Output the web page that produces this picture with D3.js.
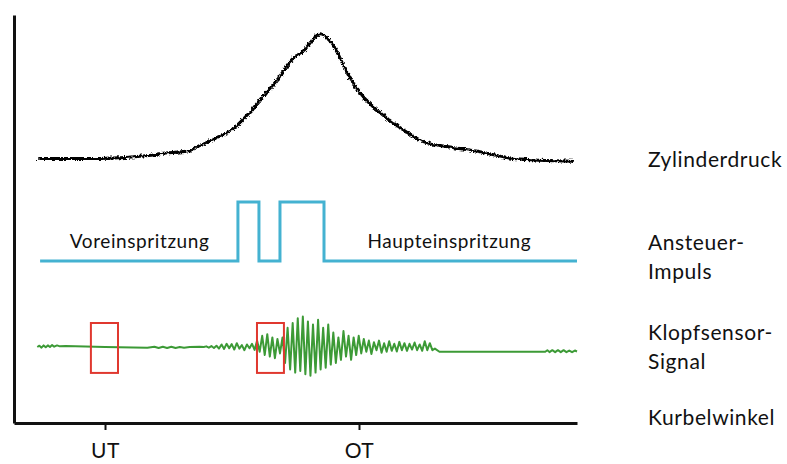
<!DOCTYPE html>
<html>
<head>
<meta charset="utf-8">
<script src="https://cdn.jsdelivr.net/npm/d3@7"></script>
<style>
  body { margin: 0; background: #fff; }
  svg { font-family: Lato, "Noto Sans", sans-serif; }
</style>
</head>
<body>
<div id="chart"></div>
<script>
// crank angle in degrees, UT = -180, OT = 0
const angleDomain = [-244.5, 154.5];
const tickAngles = [-180, 0];
const tickLabels = ["UT", "OT"];

// cylinder pressure (relative units)
const pressureAngle = [-228, -184, -150, -141, -122, -113, -102, -89, -79, -70, -58, -49, -40, -28, -18, -8.5, 0.7, 15, 27, 45, 64.5, 84, 109, 151];
const pressureValue = [9, 9, 11, 12.5, 14.5, 18.5, 24, 31, 41, 52, 66, 79, 86, 98, 88, 69, 55, 41, 32, 21, 17, 14, 9, 7];

// injection control pulse (0 = off, 1 = on)
const pulseAngle = [-226, -85.8, -70.9, -56, -24.8, 154.5];
const pulseValue = [0, 1, 0, 1, 0, 0];
const pulseLabels = [
  { text: "Voreinspritzung", angle: -205 },
  { text: "Haupteinspritzung", angle: 6 }
];

// knock sensor signal
const knockHead = [[-228, 0], [-226.5, 0.04], [-225, -0.02], [-223.5, 0.05], [-222, -0.01], [-220.5, 0.05], [-219, 0], [-217.5, 0.06], [-216, 0.01], [-214, 0.05], [-212, 0.02], [-208, 0.03], [-180, 0], [-150, -0.02], [-145, 0.01], [-142, -0.03], [-139, 0.01], [-136, -0.03], [-133, 0.01], [-130, -0.03], [-127, 0], [-124, -0.02], [-120, 0], [-113, 0.01]];
const knockBurstStart = -110;
const knockBurstStep = 1.8;
const knockBurst = [
  0, 0.02, -0.02, 0.03, -0.03, 0.04,
  -0.05, 0.08, -0.06, 0.1, -0.04, 0.09, -0.08, 0.12, -0.05, 0.06, -0.1, 0.08, -0.04, 0.1, -0.09,
  0.2, -0.15, 0.35, -0.25, 0.4, -0.3, 0.3, -0.35, 0.25, -0.2, 0.3,
  -0.5, 0.6, -0.7, 0.75, -0.8, 0.9, -0.75, 0.95, -0.85, 0.8, -0.9, 0.7, -0.8, 0.85, -0.7, 0.6, -0.65, 0.7,
  -0.55, 0.45, -0.5, 0.3, -0.4, 0.5, -0.3, 0.35, -0.4, 0.3, -0.25, 0.35,
  -0.2, 0.25, -0.15, 0.2, -0.22, 0.15, -0.1, 0.2, -0.18, 0.12, -0.15, 0.18, -0.12, 0.1, -0.14, 0.16,
  -0.1, 0.12, -0.12, 0.1, -0.08, 0.14, -0.1, 0.08, -0.12, 0.18, -0.1, 0.12, -0.1, -0.05
];
const knockTail = [[57, -0.15], [132, -0.15], [133.5, -0.1], [135, -0.16], [137, -0.1], [139, -0.16], [141, -0.1], [143, -0.16], [145, -0.1], [147, -0.16], [149, -0.11], [151, -0.16], [153, -0.11], [154.5, -0.14]];

// measuring windows on the knock signal
const knockWindows = [[-190, -170.8], [-72.3, -53.2]];
const windowRange = [-0.81, 0.75];

const seriesLabels = [
  { lines: ["Zylinderdruck"], y: 167 },
  { lines: ["Ansteuer-", "Impuls"], y: 250 },
  { lines: ["Klopfsensor-", "Signal"], y: 340 },
  { lines: ["Kurbelwinkel"], y: 425 }
];

const width = 787, height = 464;
const svg = d3.select("#chart").append("svg")
  .attr("width", width)
  .attr("height", height);

const x = d3.scaleLinear().domain(angleDomain).range([14, 577]);
const yPressure = d3.scaleLinear().domain([0, 100]).range([170, 30]);
const yPulse = d3.scaleLinear().domain([0, 1]).range([261, 202]);
const yKnock = d3.scaleLinear().domain([-1, 1]).range([379, 315]);
const yFrame = d3.scaleLinear().domain([0, 1]).range([423, 15]);

// jitter of the pressure trace
const defs = svg.append("defs");
const f = defs.append("filter").attr("id", "rough")
  .attr("x", "-5%").attr("y", "-5%").attr("width", "110%").attr("height", "110%");
f.append("feTurbulence")
  .attr("type", "turbulence")
  .attr("baseFrequency", "0.3 0.3")
  .attr("numOctaves", 1)
  .attr("seed", 3)
  .attr("result", "noise");
f.append("feDisplacementMap")
  .attr("in", "SourceGraphic")
  .attr("in2", "noise")
  .attr("scale", 3.5)
  .attr("xChannelSelector", "R")
  .attr("yChannelSelector", "G");

// pressure
const pressure = pressureAngle.map((a, i) => [a, pressureValue[i]]);
svg.append("path")
  .datum(pressure)
  .attr("fill", "none")
  .attr("stroke", "#000")
  .attr("stroke-width", 3)
  .attr("filter", "url(#rough)")
  .attr("d", d3.line()
    .x(d => x(d[0]))
    .y(d => yPressure(d[1]))
    .curve(d3.curveMonotoneX));

// pulse
const pulse = pulseAngle.map((a, i) => [a, pulseValue[i]]);
svg.append("path")
  .datum(pulse)
  .attr("fill", "none")
  .attr("stroke", "#44b2d1")
  .attr("stroke-width", 3)
  .attr("d", d3.line()
    .x(d => x(d[0]))
    .y(d => yPulse(d[1]))
    .curve(d3.curveStepAfter));

svg.selectAll(".pulse-label")
  .data(pulseLabels)
  .join("text")
  .attr("class", "pulse-label")
  .attr("x", d => x(d.angle))
  .attr("y", 248)
  .attr("font-size", 19)
  .attr("letter-spacing", 0.6)
  .attr("fill", "#111")
  .text(d => d.text);

// knock signal
const knock = knockHead
  .concat(knockBurst.map((v, i) => [knockBurstStart + i * knockBurstStep, v]))
  .concat(knockTail);
svg.append("path")
  .datum(knock)
  .attr("fill", "none")
  .attr("stroke", "#3c9a36")
  .attr("stroke-width", 2)
  .attr("stroke-linejoin", "round")
  .attr("d", d3.line()
    .x(d => x(d[0]))
    .y(d => yKnock(d[1])));

svg.selectAll(".window")
  .data(knockWindows)
  .join("rect")
  .attr("class", "window")
  .attr("x", d => x(d[0]))
  .attr("width", d => x(d[1]) - x(d[0]))
  .attr("y", yKnock(windowRange[1]))
  .attr("height", yKnock(windowRange[0]) - yKnock(windowRange[1]))
  .attr("fill", "none")
  .attr("stroke", "#e0382f")
  .attr("stroke-width", 2);

// axes
const xAxis = svg.append("g")
  .attr("transform", `translate(0,${yFrame(0)})`)
  .call(d3.axisBottom(x)
    .tickValues(tickAngles)
    .tickFormat((d, i) => tickLabels[i])
    .tickSize(7)
    .tickSizeOuter(0));
xAxis.select(".domain").attr("stroke", "#111").attr("stroke-width", 3);
xAxis.selectAll(".tick line").attr("stroke", "#111").attr("stroke-width", 2);
xAxis.selectAll(".tick text")
  .attr("y", 35)
  .attr("dy", 0)
  .attr("font-size", 21)
  .attr("letter-spacing", 0.5)
  .attr("font-family", "Lato, sans-serif")
  .attr("fill", "#111");

const yAxis = svg.append("g")
  .attr("transform", `translate(${x(angleDomain[0])},0)`)
  .call(d3.axisLeft(yFrame).tickValues([]).tickSizeOuter(0));
yAxis.select(".domain").attr("stroke", "#111").attr("stroke-width", 3);

// series labels on the right
const lab = svg.selectAll(".series-label")
  .data(seriesLabels)
  .join("text")
  .attr("class", "series-label")
  .attr("x", 648)
  .attr("y", d => d.y)
  .attr("font-size", 21)
  .attr("letter-spacing", 0.6)
  .attr("fill", "#111");
lab.selectAll("tspan")
  .data(d => d.lines)
  .join("tspan")
  .attr("x", 648)
  .attr("dy", (d, i) => i === 0 ? 0 : 29)
  .text(d => d);
</script>
</body>
</html>
